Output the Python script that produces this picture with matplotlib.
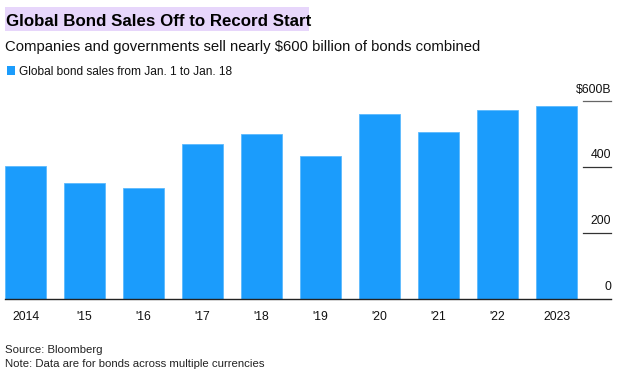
import matplotlib
matplotlib.use("Agg")
import matplotlib.pyplot as plt
from matplotlib.patches import Rectangle

years = ["2014", "'15", "'16", "'17", "'18", "'19", "'20", "'21", "'22", "2023"]
sales = [402, 350, 335, 469, 500, 435, 562, 508, 575, 587]
yticks = [0, 200, 400, 600]
ytick_labels = ["0", "200", "400", "$600B"]

title = "Global Bond Sales Off to Record Start"
subtitle = "Companies and governments sell nearly $600 billion of bonds combined"
legend_label = "Global bond sales from Jan. 1 to Jan. 18"
source = "Source: Bloomberg"
note = "Note: Data are for bonds across multiple currencies"

W, H = 627, 375
plt.rcParams['font.family'] = ['Liberation Sans', 'DejaVu Sans']
fig = plt.figure(figsize=(W / 100, H / 100), dpi=100)

def px(x, y):
    return x / W, 1 - y / H

bar_color = '#1b9cfc'

# axes placement (pixels)
left, right, top, bottom = 5, 611, 101.3, 298.5
ax = fig.add_axes([left / W, 1 - bottom / H, (right - left) / W, (bottom - top) / H])
x = list(range(len(years)))
ax.bar(x, sales, width=0.695, color=bar_color, edgecolor='#5cb9fd', linewidth=0.6, zorder=2)
ax.set_xlim(-0.3475, 9.92)
ax.set_ylim(0, 600)
for s in ['top', 'right', 'left']:
    ax.spines[s].set_visible(False)
ax.spines['bottom'].set_color('#222222')
ax.spines['bottom'].set_linewidth(1.0)
ax.set_yticks([])
ax.set_xticks(x)
ax.set_xticklabels(years, fontsize=8.8, color='#111111')
ax.tick_params(axis='x', length=0, pad=9)

# right-side y tick labels and short tick lines
xfrac_start = (583 - left) / (right - left)
for v, lab in zip(yticks, ytick_labels):
    if v > 0:
        ax.plot([xfrac_start, 1.0], [v, v], transform=ax.get_yaxis_transform(),
                color='#666666' if v == 600 else '#333333', lw=0.9, clip_on=False, zorder=3)
    ax.text(1.0, v + 26, lab, transform=ax.get_yaxis_transform(), ha='right', va='baseline',
            fontsize=8.8, color='#111111')

# title with highlight
fig.patches.append(Rectangle(px(5, 31), (309 - 5) / W, 24 / H, transform=fig.transFigure,
                             facecolor='#e7d6fb', edgecolor='none', zorder=0))
fig.text(*px(5.5, 26.5), title, fontsize=12.2, fontweight='bold', color='#000000', va='baseline')
fig.text(*px(5, 50.5), subtitle, fontsize=10.7, color='#111111', va='baseline')

# legend
fig.patches.append(Rectangle(px(7, 75), 8 / W, 9 / H, transform=fig.transFigure,
                             facecolor=bar_color, edgecolor='none'))
fig.text(*px(19, 75), legend_label, fontsize=8.6, color='#111111', va='baseline')

# footer
fig.text(*px(5, 353), source, fontsize=8.2, color='#222222', va='baseline')
fig.text(*px(5, 367), note, fontsize=8.2, color='#222222', va='baseline')

fig.savefig('out.png', dpi=100)
